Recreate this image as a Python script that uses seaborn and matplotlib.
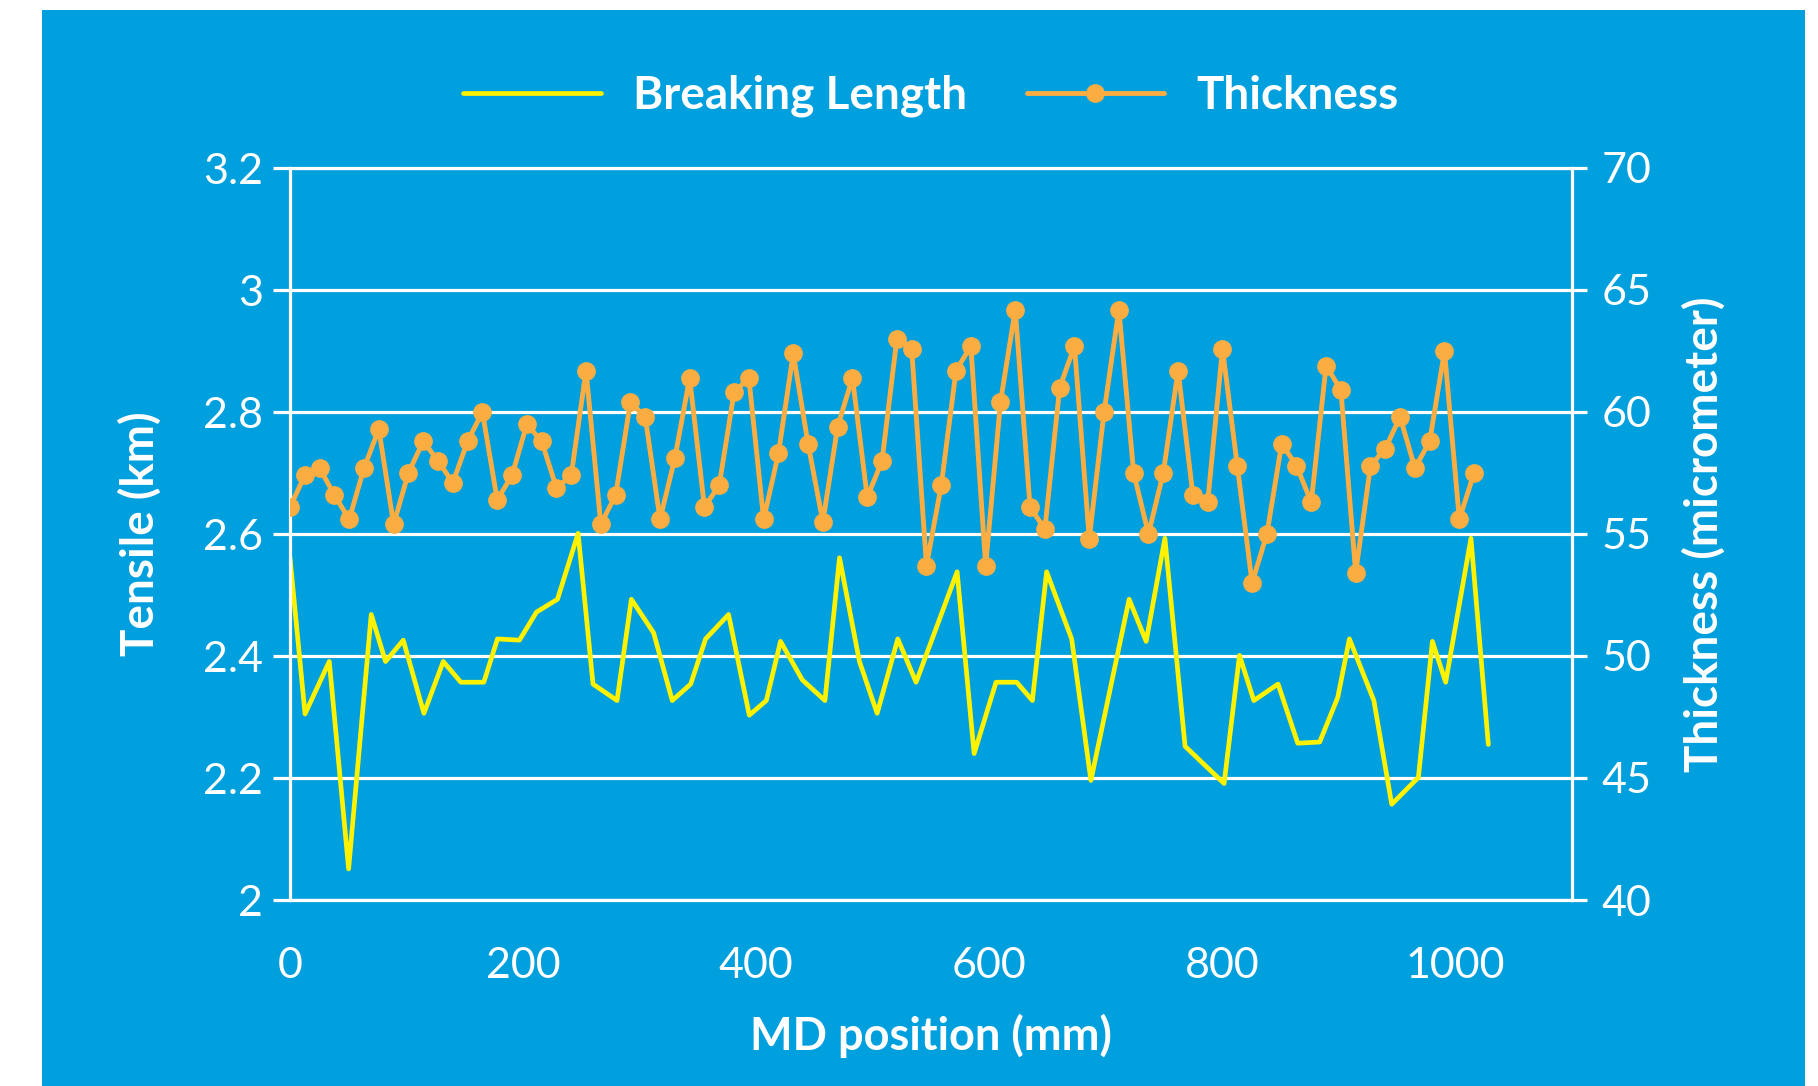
import numpy as np
import pandas as pd
import matplotlib.pyplot as plt
import seaborn as sns
from matplotlib.patches import Rectangle

# --- data ---
# Breaking length (km) vs MD position (mm)
bl_pos = [0, 12.9, 33.7, 50.3, 69.7, 82, 97.2, 114.9, 131.5, 146.6, 166.3, 178, 196.9, 211.5, 229.5,
          247.2, 260, 280.6, 292.9, 312, 328, 343.8, 356.6, 376.3, 394.1, 408.7, 420.9, 439.5, 459,
          471.5, 488.6, 503.8, 521.5, 537.2, 572.4, 587, 605.8, 623.5, 637, 649.2, 670.7, 687.2, 720,
          734.6, 750.7, 768, 801.5, 814.7, 827, 847.8, 864.7, 883.5, 899, 909, 930, 945.3, 968.2,
          980.2, 991.6, 1013.3, 1028.2]
bl_vals = [2.561, 2.305, 2.391, 2.051, 2.468, 2.391, 2.426, 2.306, 2.391, 2.357, 2.357, 2.428, 2.426,
           2.472, 2.493, 2.601, 2.354, 2.327, 2.493, 2.438, 2.327, 2.354, 2.428, 2.468, 2.303, 2.327,
           2.424, 2.361, 2.327, 2.561, 2.391, 2.306, 2.428, 2.357, 2.538, 2.240, 2.357, 2.357, 2.327,
           2.538, 2.428, 2.196, 2.493, 2.424, 2.593, 2.252, 2.191, 2.401, 2.327, 2.354, 2.257, 2.259,
           2.332, 2.428, 2.327, 2.157, 2.201, 2.424, 2.357, 2.593, 2.255]

# Thickness (micrometer), sampled every half inch along MD
th_step = 12.7
th_vals = [56.1, 57.4, 57.7, 56.6, 55.6, 57.7, 59.3, 55.4, 57.5, 58.8,
           58.0, 57.1, 58.8, 60.0, 56.4, 57.4, 59.5, 58.8, 56.9, 57.4,
           61.7, 55.4, 56.6, 60.4, 59.8, 55.6, 58.1, 61.4, 56.1, 57.0,
           60.8, 61.4, 55.6, 58.3, 62.4, 58.7, 55.5, 59.4, 61.4, 56.5,
           58.0, 63.0, 62.6, 53.7, 57.0, 61.7, 62.7, 53.7, 60.4, 64.2,
           56.1, 55.2, 61.0, 62.7, 54.8, 60.0, 64.2, 57.5, 55.0, 57.5,
           61.7, 56.6, 56.3, 62.6, 57.8, 53.0, 55.0, 58.7, 57.8, 56.3,
           61.9, 60.9, 53.4, 57.8, 58.5, 59.8, 57.7, 58.8, 62.5, 55.6,
           57.5]
th_pos = [round(th_step * i, 1) for i in range(len(th_vals))]

x_ticks = [0, 200, 400, 600, 800, 1000]
left_ticks = [2.0, 2.2, 2.4, 2.6, 2.8, 3.0, 3.2]
right_ticks = [40, 45, 50, 55, 60, 65, 70]

BLUE = '#009FDD'
YELLOW = '#FFF200'
ORANGE = '#FBAD42'

bl_df = pd.DataFrame({'MD position (mm)': bl_pos, 'Breaking Length': bl_vals})
th_df = pd.DataFrame({'MD position (mm)': th_pos, 'Thickness': th_vals})

sns.set_theme(style="white")
plt.rcParams['font.family'] = ['Lato', 'DejaVu Sans']

W, H = 1818, 1086
fig = plt.figure(figsize=(W / 100, H / 100), dpi=100)
fig.patch.set_facecolor('white')
fig.patches.append(Rectangle((42 / W, 0), (1805 - 42) / W, (H - 10) / H,
                             transform=fig.transFigure, facecolor=BLUE, edgecolor='none', zorder=-10))
ax = fig.add_axes([290 / W, 1 - 900 / H, (1572 - 290) / W, (900 - 168) / H])
ax.set_facecolor('none')
ax2 = ax.twinx()
ax2.set_facecolor('none')

sns.lineplot(data=bl_df, x='MD position (mm)', y='Breaking Length', ax=ax,
             color=YELLOW, linewidth=3.4, label='Breaking Length', legend=False)
sns.lineplot(data=th_df, x='MD position (mm)', y='Thickness', ax=ax2,
             color=ORANGE, linewidth=3.5, marker='o', markersize=13.5, markeredgewidth=0,
             label='Thickness', legend=False)

ax.set_xlim(0, 1100)
ax.set_ylim(2.0, 3.2)
ax2.set_ylim(40, 70)
ax.set_xticks(x_ticks)
ax.set_yticks(left_ticks)
ax.set_yticklabels([f"{v:g}" for v in left_ticks])
ax2.set_yticks(right_ticks)

ax.set_axisbelow(True)
ax.yaxis.grid(True, color='white', linewidth=2.3)
ax.xaxis.grid(False)
ax2.grid(False)

for name, sp in ax.spines.items():
    sp.set_visible(name in ('left', 'bottom', 'top'))
    sp.set_color('white')
    sp.set_linewidth(2.3)
for name, sp in ax2.spines.items():
    sp.set_visible(name == 'right')
    sp.set_color('white')
    sp.set_linewidth(2.3)

ax.tick_params(axis='y', length=12.5, width=2.3, color='white', pad=7, labelsize=31, labelcolor='white')
ax.tick_params(axis='x', length=12.5, width=2.3, color='white', pad=21, labelsize=31, labelcolor='white')
ax2.tick_params(axis='y', length=10.5, width=2.3, color='white', pad=11, labelsize=31, labelcolor='white')
ax2.set_xlabel('')

ax.set_xlabel('MD position (mm)', fontsize=32.5, fontweight='bold', color='white', labelpad=21)
ax.set_ylabel('Tensile (km)', fontsize=33, fontweight='bold', color='white', labelpad=30)
ax2.set_ylabel('Thickness (micrometer)', fontsize=33, fontweight='bold', color='white', labelpad=22)

h1, l1 = ax.get_legend_handles_labels()
h2, l2 = ax2.get_legend_handles_labels()
fig.legend(h1 + h2, l1 + l2, loc='center', bbox_to_anchor=(931 / W, 1 - 96 / H),
           ncol=2, frameon=False, prop={'weight': 'bold', 'size': 33}, labelcolor='white',
           handlelength=3.0, handletextpad=0.7, columnspacing=1.3)

plt.savefig('out.png', dpi=100, facecolor=fig.get_facecolor())
